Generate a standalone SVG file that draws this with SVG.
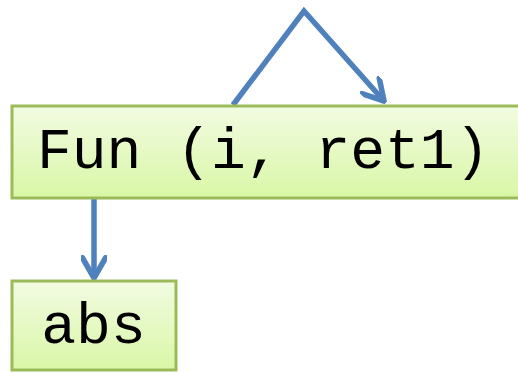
<svg xmlns="http://www.w3.org/2000/svg" width="518" height="373" viewBox="0 0 518 373">
  <style>
    .box { stroke: #9bbb59; stroke-width: 3; fill: url(#boxFill); }
    .label { font-family: "Liberation Mono", "Courier New", monospace; font-size: 58px; fill: #000; }
    .edge { stroke: #4f81bd; stroke-width: 5.5; fill: none; stroke-linejoin: miter; marker-end: url(#arrow); }
  </style>
  <defs>
    <linearGradient id="boxFill" x1="0" y1="0" x2="0" y2="1">
      <stop offset="0" stop-color="#f2fbe2"/>
      <stop offset="1" stop-color="#d9f7a6"/>
    </linearGradient>
    <marker id="arrow" viewBox="0 0 10 10" refX="9" refY="5" markerWidth="4.6" markerHeight="4.6" orient="auto" markerUnits="strokeWidth">
      <path d="M1,0.4 L9,5 L1,9.6" fill="none" stroke="#4f81bd" stroke-width="2.2" stroke-linecap="round" stroke-linejoin="miter"/>
    </marker>
  </defs>

  <g id="connectors">
    <polyline class="edge" points="233,105 304,11 384,101"/>
    <line class="edge" x1="94" y1="198" x2="94" y2="278"/>
  </g>

  <g id="fun">
    <rect class="box" x="12" y="106" width="520" height="92"/>
    <text class="label" x="37" y="168">Fun (i, ret1)</text>
  </g>

  <g id="abs">
    <rect class="box" x="12" y="281" width="164" height="89"/>
    <text class="label" x="93.5" y="343" text-anchor="middle">abs</text>
  </g>
</svg>
